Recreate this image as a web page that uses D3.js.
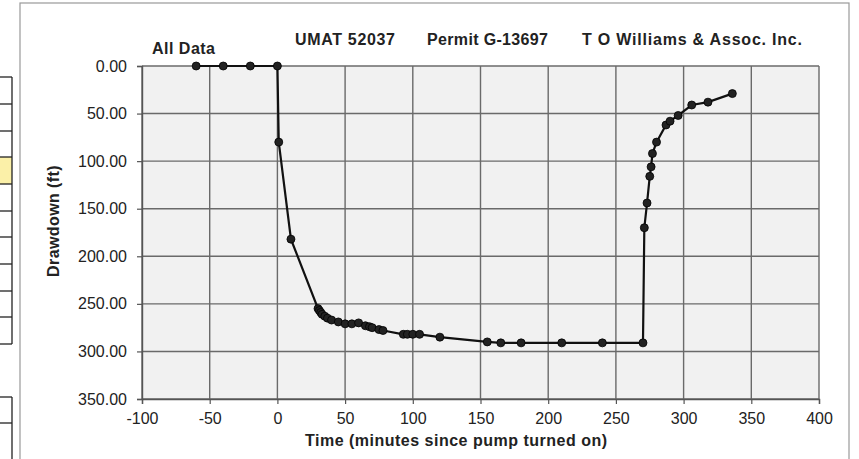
<!DOCTYPE html>
<html><head><meta charset="utf-8">
<script src="https://cdn.jsdelivr.net/npm/d3@7"></script>
<style>body{margin:0;background:#fff}svg{display:block;font-family:"Liberation Sans",Arial,sans-serif}</style>
</head><body><svg id="c" width="859" height="459"></svg>
<script>
const time = [-60,-40,-20,0,1,10,30,31,32,33,35,37,40,45,50,55,60,65,68,70,75,78,93,96,100,105,120,155,165,180,210,240,270,271,273,275,276,277,280,287,290,296,306,318,336];
const drawdown = [0,0,0,0,80,182,255,257,259,261,263,265,267,269,271,271,270,273,274,275,277,278,282,282,282,282,285,290,291,291,291,291,291,170,144,116,106,92,80,62,58,52,41,38,29];
const xTicks = [-100,-50,0,50,100,150,200,250,300,350,400];
const yTicks = [0,50,100,150,200,250,300,350];
const titles = ["All Data","UMAT 52037","Permit G-13697","T O Williams & Assoc. Inc."];

const svg = d3.select("#c");
const L=142,R=819,T=66,B=399;
const x = d3.scaleLinear().domain([-100,400]).range([L,R]);
const y = d3.scaleLinear().domain([0,350]).range([T,B]);

// left partial tables
const tbl = svg.append("g").attr("stroke","#222").attr("stroke-width",1.3).attr("fill","none");
tbl.append("rect").attr("x",-5).attr("y",157).attr("width",17).attr("height",27).attr("fill","#fbf0a8").attr("stroke","none");
[77,104,131,157,184,211,237,264,291,317,344].forEach(v=>tbl.append("line").attr("x1",0).attr("x2",12).attr("y1",v).attr("y2",v));
tbl.append("line").attr("x1",12).attr("x2",12).attr("y1",77).attr("y2",344);
[397,423].forEach(v=>tbl.append("line").attr("x1",0).attr("x2",12).attr("y1",v).attr("y2",v));
tbl.append("line").attr("x1",12).attr("x2",12).attr("y1",397).attr("y2",459);

// chart frame
svg.append("rect").attr("x",20).attr("y",3).attr("width",829).attr("height",460).attr("fill","#fff").attr("stroke","#999").attr("stroke-width",1.2);

// plot area
svg.append("rect").attr("x",L).attr("y",T).attr("width",R-L).attr("height",B-T).attr("fill","#f1f1f1");
const grid = svg.append("g").attr("stroke","#6a6a6a").attr("stroke-width",1.4);
xTicks.forEach(t=>grid.append("line").attr("x1",x(t)).attr("x2",x(t)).attr("y1",T).attr("y2",B));
yTicks.forEach(t=>grid.append("line").attr("x1",L).attr("x2",R).attr("y1",y(t)).attr("y2",y(t)));

// axes
const xa = svg.append("g").attr("transform",`translate(0,${B})`)
  .call(d3.axisBottom(x).tickValues(xTicks).tickSize(5).tickPadding(9).tickFormat(d=>String(d)));
const ya = svg.append("g").attr("transform",`translate(${L},0)`)
  .call(d3.axisLeft(y).tickValues(yTicks).tickSize(5).tickPadding(10).tickFormat(d=>d.toFixed(2)));
[xa,ya].forEach(a=>{a.select(".domain").attr("stroke","#555").attr("stroke-width",1.4);
  a.selectAll(".tick line").attr("stroke","#555").attr("stroke-width",1.2);
  a.selectAll("text").attr("font-size",16).attr("fill","#222").attr("font-family","'Liberation Sans',Arial,sans-serif");});

// series
const line = d3.line().x((d,i)=>x(time[i])).y(d=>y(d));
svg.append("path").datum(drawdown).attr("d",line).attr("fill","none").attr("stroke","#111").attr("stroke-width",2.2);
svg.append("g").selectAll("circle").data(drawdown).join("circle")
  .attr("cx",(d,i)=>x(time[i])).attr("cy",d=>y(d)).attr("r",4).attr("fill","#222").attr("stroke","#000").attr("stroke-width",0.8);

// titles
const tpos=[[152,54,63],[295,45,100],[427,45,121],[582,45,220]];
titles.forEach((t,i)=>svg.append("text").attr("x",tpos[i][0]).attr("y",tpos[i][1]).attr("font-size",16).attr("font-weight","bold").attr("fill","#222")
  .attr("textLength",tpos[i][2]).attr("lengthAdjust","spacing").text(t));
svg.append("text").attr("x",305).attr("y",446).attr("font-size",16).attr("font-weight","bold").attr("fill","#222")
  .attr("textLength",302).attr("lengthAdjust","spacing").text("Time (minutes since pump turned on)");
svg.append("text").attr("transform","translate(59,221) rotate(-90)").attr("text-anchor","middle").attr("font-size",16).attr("font-weight","bold").attr("fill","#222").attr("letter-spacing",0.4).text("Drawdown (ft)");
</script></body></html>
